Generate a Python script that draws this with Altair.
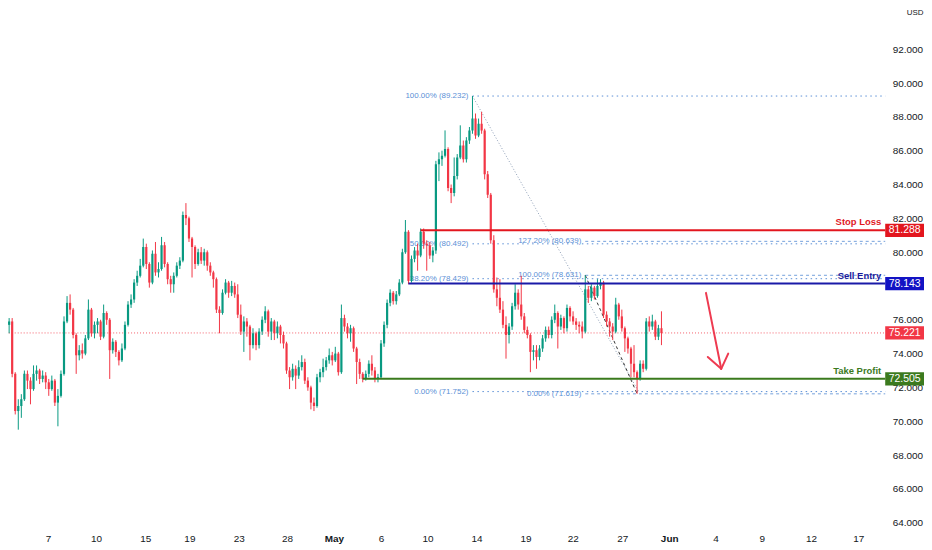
import altair as alt
import pandas as pd

W, H = 882, 517
GREEN = "#089981"
RED = "#f23645"
FONT = "Liberation Sans"

# ---------------- candle data (4h bars) ----------------
first_open = 74.6
closes = [
    75.7, 75.9, 72.8, 70.6, 70.9, 71.3, 72.8, 72.4, 71.9, 72.8,
    73.0, 72.5, 72.7, 72.3, 71.9, 72.4, 71.1, 71.5, 72.8, 75.9,
    77.0, 76.6, 75.1, 73.9, 74.2, 74.0, 74.9, 76.6, 75.2, 75.7,
    75.9, 75.0, 76.4, 76.0, 74.2, 74.7, 74.1, 73.6, 74.3, 75.7,
    76.9, 77.2, 78.2, 78.6, 79.2, 80.3, 79.3, 78.2, 79.9, 78.8,
    79.0, 80.4, 79.3, 78.4, 78.1, 78.6, 79.2, 79.5, 82.2, 82.0,
    80.8, 80.3, 79.3, 80.0, 79.5, 80.0, 79.2, 78.8, 78.4, 76.6,
    76.4, 77.6, 78.2, 77.6, 78.0, 77.5, 76.3, 75.3, 75.9, 75.6,
    74.5, 75.2, 74.5, 75.3, 76.0, 76.5, 75.3, 75.9, 75.2, 75.6,
    75.1, 74.6, 73.0, 72.6, 73.1, 72.7, 73.2, 73.5, 72.4, 72.0,
    71.1, 70.9, 72.6, 72.9, 73.2, 73.6, 73.9, 73.6, 74.0, 72.9,
    76.1, 75.6, 75.2, 75.5, 74.3, 73.5, 72.8, 72.5, 72.8, 73.4,
    73.0, 72.5, 72.6, 74.6, 75.7, 77.0, 77.6, 77.1, 77.5, 78.2,
    80.0, 81.2, 78.3, 79.6, 80.1, 79.8, 81.2, 80.5, 80.4, 79.8,
    80.1, 85.2, 85.5, 85.7, 86.1, 83.8, 83.5, 84.5, 85.6, 86.3,
    85.5, 86.6, 87.2, 87.9, 86.9, 87.6, 87.2, 84.6, 83.4, 80.7,
    77.8, 77.3, 76.6, 75.7, 75.1, 75.6, 76.8, 77.6, 76.9, 76.2,
    75.4, 75.1, 74.1, 74.2, 73.8, 74.3, 74.9, 75.4, 75.1, 76.0,
    76.4, 75.6, 76.1, 75.5, 76.7, 76.2, 75.9, 75.7, 75.6, 75.3,
    77.8, 77.3, 77.9, 77.4, 78.0, 78.2, 76.3, 75.9, 75.6, 75.3,
    76.9, 76.2, 75.5, 74.9, 74.3, 73.4, 72.9, 72.5, 73.4, 73.1,
    75.9, 75.6, 75.9, 75.0, 75.5, 75.221,
]
highs = [
    76.0, 76.1, 76.1, 72.9, 71.3, 71.6, 73.0, 73.0, 72.6, 73.3,
    73.3, 73.1, 73.0, 72.9, 72.5, 72.7, 72.5, 71.9, 73.0, 76.2,
    77.4, 77.5, 76.7, 75.2, 74.5, 74.6, 75.1, 77.2, 76.7, 75.9,
    76.1, 76.0, 76.9, 76.5, 76.1, 74.9, 74.8, 74.2, 74.6, 75.9,
    77.1, 77.5, 78.4, 78.9, 79.6, 80.8, 80.5, 79.4, 80.1, 80.6,
    79.4, 80.9, 80.6, 79.4, 78.6, 78.8, 79.4, 79.7, 82.4, 82.9,
    82.1, 80.9, 80.4, 80.2, 80.3, 80.2, 80.1, 79.4, 78.9, 78.5,
    76.8, 77.8, 78.4, 78.3, 78.3, 78.2, 78.1, 76.9, 76.2, 76.1,
    75.7, 75.5, 75.3, 75.5, 76.2, 76.8, 76.6, 76.1, 76.0, 75.9,
    75.7, 75.3, 74.7, 73.2, 73.4, 73.3, 73.6, 73.9, 73.7, 72.6,
    72.1, 71.4, 72.8, 73.1, 73.7, 73.8, 74.3, 74.1, 74.4, 74.1,
    76.9, 76.3, 75.8, 75.7, 75.6, 74.4, 73.7, 72.9, 73.0, 73.6,
    73.9, 73.2, 72.8, 74.8, 75.9, 77.2, 77.8, 77.7, 77.7, 78.4,
    80.2, 81.9, 81.3, 79.8, 80.3, 80.5, 81.4, 81.4, 80.7, 80.6,
    80.3, 85.4, 85.9, 86.0, 87.2, 86.2, 84.0, 85.6, 85.8, 87.5,
    86.6, 86.8, 87.4, 89.232, 88.2, 87.9, 88.3, 87.3, 84.8, 83.5,
    81.0, 78.5, 78.4, 77.1, 76.2, 75.8, 77.0, 78.1, 77.8, 78.6,
    76.4, 75.6, 75.2, 74.5, 74.5, 74.5, 75.1, 75.6, 75.6, 76.2,
    76.9, 76.5, 76.3, 76.2, 76.9, 76.8, 76.5, 76.1, 75.9, 75.9,
    78.631, 78.0, 78.1, 78.0, 78.4, 78.4, 78.3, 76.5, 76.1, 75.8,
    77.3, 77.0, 76.6, 75.6, 75.0, 74.4, 74.5, 73.0, 73.6, 73.6,
    76.1, 76.2, 76.3, 76.0, 75.7, 76.5,
]
lows = [
    74.3, 75.2, 72.6, 70.4, 69.5, 70.2, 71.2, 71.9, 71.0, 71.8,
    72.4, 72.2, 72.3, 71.9, 71.5, 71.8, 70.9, 69.7, 71.4, 72.7,
    75.8, 76.3, 74.9, 72.8, 73.6, 73.7, 73.9, 74.8, 75.0, 74.9,
    75.2, 74.8, 74.9, 75.7, 72.5, 74.0, 73.8, 73.3, 73.5, 74.2,
    75.6, 76.7, 77.0, 78.0, 78.5, 79.1, 79.0, 77.9, 78.1, 78.6,
    78.5, 78.9, 79.1, 78.1, 77.6, 77.6, 78.5, 79.0, 79.4, 81.6,
    80.6, 78.5, 79.0, 79.2, 79.3, 79.2, 78.9, 78.6, 77.9, 76.4,
    75.2, 76.3, 77.5, 77.3, 77.4, 77.3, 76.1, 75.1, 74.1, 75.0,
    73.6, 74.3, 74.2, 74.3, 75.1, 75.8, 75.0, 74.8, 74.8, 74.9,
    74.6, 74.3, 72.8, 71.9, 72.4, 71.9, 72.5, 73.0, 72.2, 71.8,
    70.7, 70.6, 70.8, 72.3, 72.6, 73.0, 73.4, 73.3, 73.5, 72.7,
    72.8, 75.3, 74.9, 74.7, 74.1, 72.2, 72.5, 72.3, 72.4, 72.6,
    72.7, 72.3, 72.3, 72.5, 74.4, 75.5, 76.8, 76.9, 76.9, 77.4,
    78.1, 79.9, 78.1, 78.2, 79.4, 78.9, 79.7, 80.2, 78.9, 79.6,
    79.4, 79.9, 84.2, 85.1, 85.6, 83.6, 82.9, 83.3, 84.3, 85.5,
    85.3, 85.3, 86.4, 87.0, 86.7, 86.8, 87.0, 84.3, 83.2, 80.5,
    77.6, 76.8, 76.4, 75.5, 73.7, 74.6, 75.4, 76.6, 76.6, 76.0,
    75.2, 74.9, 72.9, 73.6, 73.1, 73.6, 74.1, 74.7, 74.9, 74.9,
    75.8, 74.3, 75.4, 75.2, 75.3, 75.9, 75.7, 75.4, 75.2, 74.9,
    75.2, 77.0, 77.1, 77.2, 77.3, 77.8, 76.1, 75.6, 75.0, 74.8,
    75.2, 76.0, 75.3, 74.1, 74.0, 72.6, 72.6, 71.619, 72.4, 72.9,
    73.0, 75.3, 75.4, 74.8, 74.8, 74.5,
]
opens = [first_open] + closes[:-1]
bars = pd.DataFrame({"i": list(range(len(closes))), "o": opens, "c": closes,
                     "h": highs, "l": lows})

# ---------------- axis labels ----------------
xtick_pos = [13.9, 29.7, 45.8, 60.3, 76.5, 92.3, 107.7, 123.2, 138.4, 154.5,
             170.6, 186.1, 202.3, 217.7, 232.9, 248.1, 264.2, 279.7]
xtick_lab = ["7", "10", "15", "19", "23", "28", "May", "6", "10", "14",
             "19", "22", "27", "Jun", "4", "9", "12", "17"]
xtick_bold = [False, False, False, False, False, False, True, False, False, False,
              False, False, False, True, False, False, False, False]
# 78.000 is hidden behind the entry price box in the reference
ytick_vals = [64, 66, 68, 70, 72, 74, 76, 80, 82, 84, 86, 88, 90, 92]

# ---------------- trade levels ----------------
lvl_name = ["Stop Loss", "Sell Entry", "Take Profit"]
lvl_price = [81.288, 78.143, 72.505]
lvl_start = [136, 132, 117]
lvl_end = [292, 292, 292]
lvl_line_col = ["#e3161e", "#1a1aa8", "#3a7a1c"]
lvl_text_col = ["#e0191f", "#1a1a9a", "#3b7a1e"]

box_price = [81.288, 78.143, 75.221, 72.505]
box_text = ["81.288", "78.143", "75.221", "72.505"]
box_col = ["#e3161e", "#1313c4", "#f23645", "#3b7a1e"]

last_price = 75.221

# ---------------- fibonacci ----------------
fib1_price = [89.232, 80.492, 78.429, 71.752]
fib1_text = ["100.00% (89.232)", "50.00% (80.492)", "38.20% (78.429)", "0.00% (71.752)"]
fib1_start = 153
fib2_price = [80.639, 78.631, 71.619]
fib2_text = ["127.20% (80.639)", "100.00% (78.631)", "0.00% (71.619)"]
fib2_start = 190
fib_end = 292

diag1 = {"x": [153, 207.5], "p": [89.232, 71.752]}
diag2 = {"x": [190, 207], "p": [78.631, 71.619]}

# arrow segments (bar index, price)
arrow_x = [229.6, 234.6, 234.6]
arrow_y = [77.59, 73.1, 73.1]
arrow_x2 = [234.6, 230.2, 236.9]
arrow_y2 = [73.1, 73.8, 74.0]

# ---------------- scales ----------------
xs = alt.Scale(domain=[2.258, 286.77], nice=False, zero=False)
ys = alt.Scale(domain=[63.824, 94.235], nice=False, zero=False)
yax = alt.Axis(orient="right", values=ytick_vals, format=".3f", grid=False,
               domain=False, ticks=False, labelFontSize=10, labelColor="#131722",
               labelPadding=7, title=None, labelFont=FONT)


def X(f):
    return alt.X(f"{f}:Q", scale=xs, axis=None)


def Y(f):
    return alt.Y(f"{f}:Q", scale=ys, axis=yax)


cond_col = alt.condition("datum.c >= datum.o", alt.value(GREEN), alt.value(RED))

# last price dotted line
lp_df = pd.DataFrame({"x": [-5], "x2": [fib_end], "p": [last_price]})
lp_line = alt.Chart(lp_df).mark_rule(color=RED, strokeDash=[1, 2], strokeWidth=1,
                                      opacity=0.8, clip=True).encode(
    x=X("x"), x2=alt.X2("x2"), y=Y("p"))

# fib lines
f1 = pd.DataFrame({"p": fib1_price, "t": fib1_text, "x": fib1_start, "x2": fib_end})
f2 = pd.DataFrame({"p": fib2_price, "t": fib2_text, "x": fib2_start, "x2": fib_end})
FIBC = "#5b8fd6"
f1_lines = alt.Chart(f1).mark_rule(color=FIBC, strokeDash=[1.5, 3.5], strokeWidth=1,
                                   clip=True).encode(x=X("x"), x2=alt.X2("x2"), y=Y("p"))
f2_lines = alt.Chart(f2).mark_rule(color=FIBC, strokeDash=[3, 3], strokeWidth=1,
                                   opacity=0.85, clip=True).encode(
    x=X("x"), x2=alt.X2("x2"), y=Y("p"))
f1_text = alt.Chart(f1).mark_text(align="right", baseline="middle", dx=-4, fontSize=8,
                                  font=FONT, color=FIBC).encode(x=X("x"), y=Y("p"), text="t:N")
f2_text = alt.Chart(f2).mark_text(align="right", baseline="middle", dx=-4, fontSize=8,
                                  font=FONT, color=FIBC).encode(x=X("x"), y=Y("p"), text="t:N")

d1 = alt.Chart(pd.DataFrame(diag1)).mark_line(color="#8c9db5", strokeDash=[1, 2],
                                              strokeWidth=1).encode(x=X("x"), y=Y("p"))
d2 = alt.Chart(pd.DataFrame(diag2)).mark_line(color="#333333", strokeDash=[3, 3],
                                              strokeWidth=1).encode(x=X("x"), y=Y("p"))

# candles
wicks = alt.Chart(bars).mark_rule(strokeWidth=1, clip=True).encode(
    x=X("i"), y=Y("l"), y2=alt.Y2("h"), color=cond_col)
bodies = alt.Chart(bars).mark_bar(size=2.2, clip=True).encode(
    x=X("i"), y=Y("o"), y2=alt.Y2("c"), color=cond_col)

# trade levels
lv = pd.DataFrame({"n": lvl_name, "p": lvl_price, "x": lvl_start, "x2": lvl_end,
                   "lc": lvl_line_col, "tc": lvl_text_col})
lv_lines = alt.Chart(lv).mark_rule(strokeWidth=2, clip=True).encode(
    x=X("x"), x2=alt.X2("x2"), y=Y("p"), color=alt.Color("lc:N", scale=None))
lv_text = alt.Chart(lv).mark_text(align="right", baseline="middle", dy=-8,
                                  fontSize=9.5, font=FONT, fontWeight="bold").encode(
    x=alt.value(W - 4), y=Y("p"), text="n:N", color=alt.Color("tc:N", scale=None))

# arrow
ar = pd.DataFrame({"x": arrow_x, "y": arrow_y, "x2": arrow_x2, "y2": arrow_y2})
arrow = alt.Chart(ar).mark_rule(color="#ee3a50", strokeWidth=2, strokeCap="round").encode(
    x=X("x"), y=Y("y"), x2=alt.X2("x2"), y2=alt.Y2("y2"))

# price boxes
bx = pd.DataFrame({"p": box_price, "t": box_text, "c": box_col})
boxes = alt.Chart(bx).transform_calculate(
    top="datum.p + 0.39", bot="datum.p - 0.39").mark_rect().encode(
    x=alt.value(W), x2=alt.value(W + 39), y=Y("top"), y2=alt.Y2("bot"),
    color=alt.Color("c:N", scale=None))
box_txt = alt.Chart(bx).mark_text(align="center", baseline="middle", fontSize=10.5,
                                  font=FONT, color="white").encode(
    x=alt.value(W + 19.5), y=Y("p"), text="t:N")

# x tick labels
xt = pd.DataFrame({"pos": xtick_pos, "lab": xtick_lab, "b": xtick_bold})
xt_norm = alt.Chart(xt).transform_filter("!datum.b").mark_text(
    baseline="middle", fontSize=10, font=FONT, color="#131722").encode(
    x=X("pos"), y=alt.value(H + 13), text="lab:N")
xt_bold = alt.Chart(xt).transform_filter("datum.b").mark_text(
    baseline="middle", fontSize=10, font=FONT, fontWeight="bold", color="#131722").encode(
    x=X("pos"), y=alt.value(H + 13), text="lab:N")

usd = alt.Chart(pd.DataFrame({"t": ["USD"]})).mark_text(
    baseline="middle", fontSize=8, font=FONT, color="#131722").encode(
    x=alt.value(W + 30), y=alt.value(2), text="t:N")

chart = alt.layer(
    lp_line, f1_lines, f2_lines, f1_text, f2_text, d1, d2,
    wicks, bodies, lv_lines, lv_text, arrow, boxes, box_txt,
    xt_norm, xt_bold, usd
).properties(width=W, height=H, padding=0, background="white").configure_view(stroke=None)

chart.save("out.html", embed_options={"renderer": "svg", "actions": False})
